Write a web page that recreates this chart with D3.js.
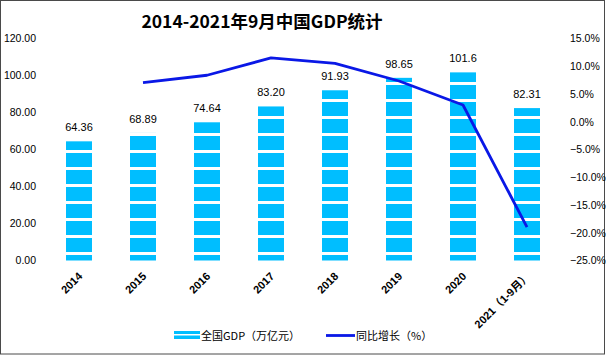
<!DOCTYPE html>
<html>
<head>
<meta charset="utf-8">
<script src="https://cdn.jsdelivr.net/npm/d3@7"></script>
<style>
  html, body { margin: 0; padding: 0; background: #fff; }
  svg { display: block; }
</style>
</head>
<body>
<svg id="chart" width="606" height="355"></svg>
<script>
// ---- data ----
const categories = ["2014", "2015", "2016", "2017", "2018", "2019", "2020", "2021（1-9月）"];
const gdp = [64.36, 68.89, 74.64, 83.20, 91.93, 98.65, 101.6, 82.31];
const growth = [null, 7.04, 8.35, 11.47, 10.49, 7.31, 2.99, -18.99];
const leftTicks = [0, 20, 40, 60, 80, 100, 120];
const rightTicks = [-25, -20, -15, -10, -5, 0, 5, 10, 15];
const titleText = "2014-2021年9月中国GDP统计";
const legendLabels = ["全国GDP（万亿元）", "同比增长（%）"];

// ---- styles ----
const barColor = "#00BEFF";
const lineColor = "#0A18E6";
const numFont = "'Liberation Sans', Arial, sans-serif";
const cjkFont = "'Noto Sans CJK SC', 'Liberation Sans', sans-serif";
const mixFont = "'Liberation Sans', 'Noto Sans CJK SC', sans-serif";

const svg = d3.select("#chart");

// border
svg.append("rect").attr("x", 0.5).attr("y", 0.5).attr("width", 604).attr("height", 353.5)
  .attr("fill", "#fff").attr("stroke", "#4a4a4a").attr("stroke-width", 1);

// striped pattern
const defs = svg.append("defs");
const pat = defs.append("pattern").attr("id", "stripe")
  .attr("patternUnits", "userSpaceOnUse").attr("x", 0).attr("y", 0)
  .attr("width", 10).attr("height", 17);
pat.append("rect").attr("x", 0).attr("y", 0).attr("width", 10).attr("height", 14).attr("fill", barColor);
pat.append("rect").attr("x", 0).attr("y", 14).attr("width", 10).attr("height", 3).attr("fill", "#fff");

const legPat = defs.append("pattern").attr("id", "legstripe")
  .attr("patternUnits", "userSpaceOnUse").attr("x", 0).attr("y", 331)
  .attr("width", 10).attr("height", 8);
legPat.append("rect").attr("x", 0).attr("y", 0).attr("width", 10).attr("height", 3).attr("fill", barColor);
legPat.append("rect").attr("x", 0).attr("y", 3).attr("width", 10).attr("height", 1.5).attr("fill", "#fff");
legPat.append("rect").attr("x", 0).attr("y", 4.5).attr("width", 10).attr("height", 3.5).attr("fill", barColor);

// scales
const x = d3.scaleBand().domain(categories).range([47, 559]).paddingInner(0.594).paddingOuter(0.297);
const yL = d3.scaleLinear().domain([0, 120]).range([260.5, 38.3]);
const yR = d3.scaleLinear().domain([-25, 15]).range([260.5, 38.3]);

// title
svg.append("text").attr("x", 262).attr("y", 28).attr("text-anchor", "middle")
  .attr("font-family", cjkFont).attr("font-weight", "bold").attr("font-size", 17.5)
  .attr("fill", "#000").text(titleText);

// left axis
const axL = svg.append("g").attr("transform", "translate(38,0)")
  .call(d3.axisLeft(yL).tickValues(leftTicks).tickSize(0).tickPadding(2).tickFormat(d3.format(".2f")));
axL.select(".domain").remove();
axL.selectAll("text").attr("font-family", numFont).attr("font-size", 10.5).attr("fill", "#000");

// right axis
const axR = svg.append("g").attr("transform", "translate(568,0)")
  .call(d3.axisRight(yR).tickValues(rightTicks).tickSize(0).tickPadding(2).tickFormat(d => d3.format(".1f")(d) + "%"));
axR.select(".domain").remove();
axR.selectAll("text").attr("font-family", numFont).attr("font-size", 10.5).attr("fill", "#000");

// bars
svg.append("g").selectAll("rect").data(gdp).join("rect")
  .attr("x", (d, i) => x(categories[i]))
  .attr("width", x.bandwidth())
  .attr("y", d => yL(d))
  .attr("height", d => yL(0) - yL(d))
  .attr("fill", "url(#stripe)");

// bar labels
svg.append("g").selectAll("text").data(gdp).join("text")
  .attr("x", (d, i) => x(categories[i]) + x.bandwidth() / 2)
  .attr("y", d => yL(d) - 10)
  .attr("text-anchor", "middle")
  .attr("font-family", numFont).attr("font-size", 11).attr("fill", "#000")
  .text(d => d3.format(".4r")(d));

// x labels
svg.append("g").selectAll("text").data(categories).join("text")
  .attr("transform", d => `translate(${x(d) + x.bandwidth() / 2 + 4},277) rotate(-45)`)
  .attr("text-anchor", "end")
  .attr("font-family", mixFont).attr("font-weight", "bold").attr("font-size", 11)
  .attr("fill", "#000").text(d => d);

// line
const pts = growth.map((g, i) => ({ c: categories[i], g })).filter(p => p.g !== null);
const line = d3.line().x(p => x(p.c) + x.bandwidth() / 2).y(p => yR(p.g));
svg.append("path").datum(pts).attr("d", line)
  .attr("fill", "none").attr("stroke", lineColor).attr("stroke-width", 2.8)
  .attr("stroke-linejoin", "round");

// legend
svg.append("rect").attr("x", 174).attr("y", 331).attr("width", 26).attr("height", 8).attr("fill", "url(#legstripe)");
svg.append("text").attr("x", 201).attr("y", 340).attr("font-family", cjkFont).attr("font-size", 11)
  .attr("fill", "#000").text(legendLabels[0]);
svg.append("line").attr("x1", 326).attr("x2", 355).attr("y1", 335.5).attr("y2", 335.5)
  .attr("stroke", lineColor).attr("stroke-width", 2.8);
svg.append("text").attr("x", 356).attr("y", 340).attr("font-family", cjkFont).attr("font-size", 11)
  .attr("fill", "#000").text(legendLabels[1]);
</script>
</body>
</html>
